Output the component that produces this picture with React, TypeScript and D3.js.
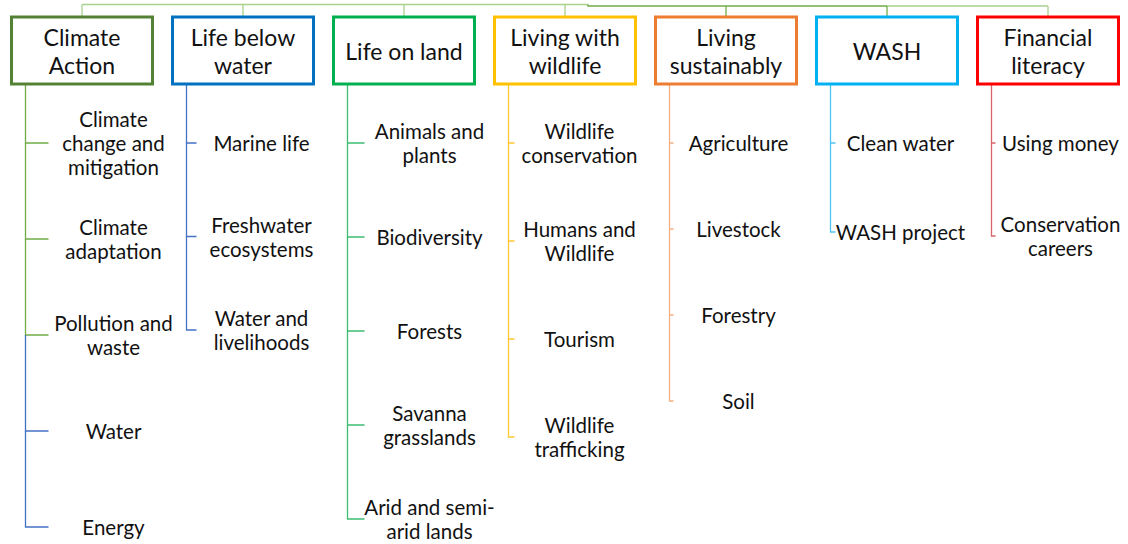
import React from "react";
import * as d3 from "d3";

// ---- data ----
const groupNames = [
  "Climate\nAction",
  "Life below\nwater",
  "Life on land",
  "Living with\nwildlife",
  "Living\nsustainably",
  "WASH",
  "Financial\nliteracy",
];
const groupColors = ["#548235", "#0070C0", "#00B050", "#FFC000", "#ED7D31", "#00B0F0", "#FF0000"];

const climateItems = ["Climate\nchange and\nmitigation", "Climate\nadaptation", "Pollution and\nwaste", "Water", "Energy"];
const lifeBelowItems = ["Marine life", "Freshwater\necosystems", "Water and\nlivelihoods"];
const lifeLandItems = ["Animals and\nplants", "Biodiversity", "Forests", "Savanna\ngrasslands", "Arid and semi-\narid lands"];
const wildlifeItems = ["Wildlife\nconservation", "Humans and\nWildlife", "Tourism", "Wildlife\ntrafficking"];
const sustainItems = ["Agriculture", "Livestock", "Forestry", "Soil"];
const washItems = ["Clean water", "WASH project"];
const financeItems = ["Using money", "Conservation\ncareers"];

const groupItems = [climateItems, lifeBelowItems, lifeLandItems, wildlifeItems, sustainItems, washItems, financeItems];

const connectorColors = [
  ["#70AD47", "#70AD47", "#70AD47", "#4472C4", "#4472C4"],
  ["#4472C4", "#4472C4", "#4472C4"],
  ["#3DBE72", "#3DBE72", "#3DBE72", "#3DBE72", "#3DBE72"],
  ["#FFC833", "#FFC833", "#FFC833", "#FFC833"],
  ["#F4B183", "#F4B183", "#F4B183", "#F4B183"],
  ["#4FC3F3", "#4FC3F3"],
  ["#D9646A", "#D9646A"],
];

// ---- layout ----
const W = 1128;
const H = 544;
const FONT = "Lato, 'Open Sans', sans-serif";
const boxW = 141;
const boxH = 67;
const boxTop = 17;
const rowStart = 143;
const rowSteps = [96, 93.5, 94, 98, 86, 89, 93];
const stubLens = [23, 10, 17, 6, 4, 5, 4];
const nodeW = 130;
const itemFont = 20.5;
const itemLine = 24;
const headFont = 23;
const headLine = 28;

const x = d3.scalePoint<string>().domain(groupNames).range([82, 1048]);

function Lines({ text, cx, cy, size, lh }: { text: string; cx: number; cy: number; size: number; lh: number }) {
  const lines = text.split("\n");
  const off = ((lines.length - 1) * lh) / 2;
  return (
    <text x={cx} textAnchor="middle" fontFamily={FONT} fontSize={size} fill="#111">
      {lines.map((l, i) => (
        <tspan key={i} x={cx} y={cy - off + i * lh} dominantBaseline="central">
          {l}
        </tspan>
      ))}
    </text>
  );
}

export default function App() {
  const c = groupNames.map((g) => x(g) as number);
  const splitX = 588;
  const topLine1 = d3.path();
  topLine1.moveTo(c[0], 4.5);
  topLine1.lineTo(splitX, 4.5);
  const topLine2 = d3.path();
  topLine2.moveTo(splitX, 4.5);
  topLine2.lineTo(splitX, 6);
  topLine2.lineTo(c[5], 6);
  const topLine3 = d3.path();
  topLine3.moveTo(c[5], 6);
  topLine3.lineTo(c[6], 6);

  return (
    <svg width={W} height={H} style={{ position: "absolute", left: 0, top: 0, background: "#fff" }}>
      <path d={topLine1.toString()} stroke="#A9D18E" strokeWidth={1.3} fill="none" />
      <path d={topLine2.toString()} stroke="#70AD47" strokeWidth={1.6} fill="none" />
      <path d={topLine3.toString()} stroke="#A9D18E" strokeWidth={1.3} fill="none" />
      {groupNames.map((g, gi) => {
        const cx = c[gi];
        const left = cx - boxW / 2;
        const vx = left + 14;
        const items = groupItems[gi];
        const y = d3.scaleLinear().domain([0, 1]).range([rowStart, rowStart + rowSteps[gi]]);
        const stubEnd = vx + stubLens[gi];
        return (
          <g key={g}>
            <line
              x1={cx}
              x2={cx}
              y1={gi < 4 ? 4.5 : 6}
              y2={boxTop}
              stroke={gi >= 4 && gi <= 5 ? "#70AD47" : "#A9D18E"}
              strokeWidth={1.3}
            />
            {items.map((it, ii) => {
              const yy = y(ii);
              const prev = ii === 0 ? boxTop + boxH : y(ii - 1);
              const col = connectorColors[gi][ii];
              return (
                <g key={it}>
                  <path
                    d={`M${vx},${prev}L${vx},${yy}L${stubEnd},${yy}`}
                    stroke={col}
                    strokeWidth={1.3}
                    fill="none"
                  />
                  <Lines text={it} cx={stubEnd + nodeW / 2} cy={yy} size={itemFont} lh={itemLine} />
                </g>
              );
            })}
            <rect
              x={left}
              y={boxTop}
              width={boxW}
              height={boxH}
              fill="#fff"
              stroke={groupColors[gi]}
              strokeWidth={3}
            />
            <Lines text={g} cx={cx} cy={boxTop + boxH / 2} size={headFont} lh={headLine} />
          </g>
        );
      })}
    </svg>
  );
}
